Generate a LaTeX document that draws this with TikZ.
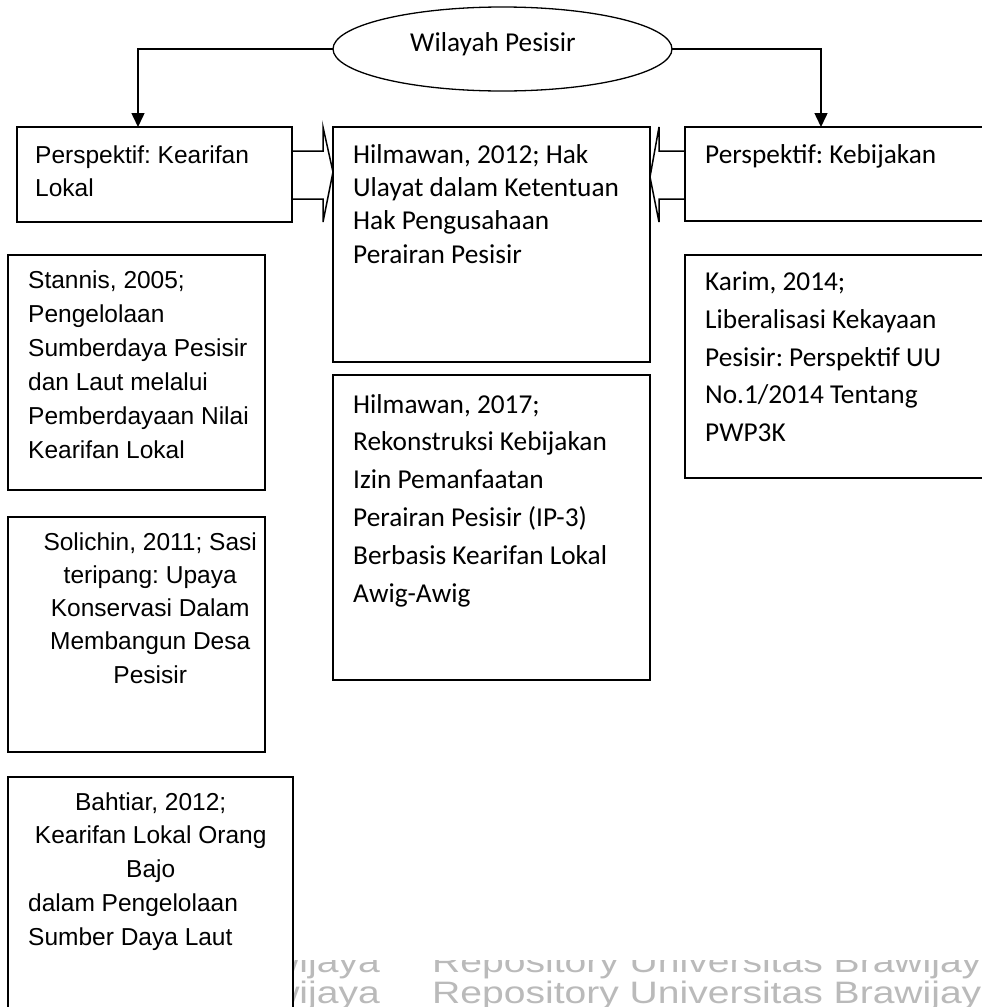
\documentclass[tikz,border=0pt]{standalone}
\usepackage{fontspec}
\setmainfont{Liberation Sans}
\newfontfamily\calibri{Carlito}
\usetikzlibrary{arrows.meta,shapes.geometric,calc}
\frenchspacing

\begin{document}
\begin{tikzpicture}[x=1pt,y=-1pt,
  box/.style={draw=black,line width=1.5pt,fill=white,rectangle,inner sep=0pt,outer sep=0pt,anchor=north west},
  link/.style={draw=black,line width=1.5pt,line join=miter},
  tip/.style={-{Triangle[width=13pt,length=14pt]}},
  arial/.style={font=\frenchspacing\fontsize{24.5}{34}\selectfont,inner sep=0pt,anchor=base west},
  cal/.style={font=\frenchspacing\calibri\fontsize{27.3}{33.4}\selectfont,inner sep=0pt,anchor=base west},
  wm/.style={text=black!27,font=\fontsize{31}{31}\selectfont,inner sep=0pt},
]
\useasboundingbox (0,0) rectangle (982,1007);
\fill[white] (0,0) rectangle (982,1007);

% repository stamp along the bottom edge
\begin{scope}
  \clip (0,960) rectangle (982,1007);
  \foreach \yy [count=\i] in {972,1003} {
    \node[wm,anchor=base east] (wmL\i) at (380,\yy) {\scalebox{1.26}[1]{awijaya}};
    \node[wm,anchor=base west] (wmR\i) at (432,\yy) {\scalebox{1.26}[1]{Repository Universitas Brawijaya}};
  }
\end{scope}

% central topic
\node[draw=black,line width=1.3pt,ellipse,minimum width=339pt,minimum height=84pt,inner sep=0pt,outer sep=0pt] (wil) at (502.5,49) {};
\node[cal] (wilt) at (410,51) {Wilayah Pesisir};

% perspective boxes
\node[box,minimum width=275pt,minimum height=95pt] (kl) at (17,127) {};
\node[box,minimum width=317pt,minimum height=235pt] (hk) at (333,127) {};
\node[box,minimum width=320pt,minimum height=94pt] (kb) at (685,127) {};

% literature boxes
\node[box,minimum width=257pt,minimum height=235pt] (st) at (8,255) {};
\node[box,minimum width=257pt,minimum height=235pt] (so) at (8,517) {};
\node[box,minimum width=285pt,minimum height=250pt] (ba) at (8,777) {};
\node[box,minimum width=317pt,minimum height=305pt] (hi) at (333,375) {};
\node[box,minimum width=320pt,minimum height=223pt] (ka) at (685,255) {};

% texts
\node[arial] (klt) at ($(kl.north west)+(18,36)$) {\parbox[t]{250pt}{\raggedright\baselineskip=33pt Perspektif: Kearifan\\Lokal}};
\node[cal] (hkt) at ($(hk.north west)+(20,36)$) {\parbox[t]{295pt}{\raggedright Hilmawan, 2012; Hak\\Ulayat dalam Ketentuan\\Hak Pengusahaan\\Perairan Pesisir}};
\node[cal] (kbt) at ($(kb.north west)+(20,36)$) {Perspektif: Kebijakan};

\node[arial] (stt) at ($(st.north west)+(20,33)$) {\parbox[t]{235pt}{\raggedright Stannis, 2005;\\Pengelolaan\\Sumberdaya Pesisir\\dan Laut melalui\\Pemberdayaan Nilai\\Kearifan Lokal}};
\node[arial] (sot) at ($(so.north west)+(0,33)$) {\parbox[t]{284pt}{\centering\baselineskip=33.3pt Solichin, 2011; Sasi\\teripang: Upaya\\Konservasi Dalam\\Membangun Desa\\Pesisir}};
\node[arial] (bat) at ($(ba.north west)+(0,33)$) {\parbox[t]{285pt}{\baselineskip=33.75pt\centering Bahtiar, 2012;\\Kearifan Lokal Orang\\Bajo\par\raggedright\leftskip=20pt dalam Pengelolaan\\Sumber Daya Laut}};

\node[cal] (hit) at ($(hi.north west)+(20,38)$) {\parbox[t]{295pt}{\raggedright\baselineskip=37.8pt Hilmawan, 2017;\\Rekonstruksi Kebijakan\\Izin Pemanfaatan\\Perairan Pesisir (IP-3)\\Berbasis Kearifan Lokal\\Awig-Awig}};
\node[cal] (kat) at ($(ka.north west)+(20,35.5)$) {\parbox[t]{295pt}{\raggedright\baselineskip=37.8pt Karim, 2014;\\Liberalisasi Kekayaan\\Pesisir: Perspektif UU\\No.1/2014 Tentang\\PWP3K}};

% connectors from the central topic
\draw[link,tip] (wil.west) -| ($(kl.north west)+(121,0)$);
\draw[link,tip] (wil.east) -| ($(kb.north west)+(136,0)$);

% block arrows pointing into the middle column
\draw[link] ($(kl.east)+(0,-23.5)$) -- ++(31,0) -- ++(0,-24) -- ($(hk.north west)+(0,45)$)
  -- ($(kl.south east)+(31,0)$) -- ++(0,-23) -- ($(kl.east)+(0,24.5)$);
\draw[link] ($(kb.north west)+(0,24)$) -- ++(-26,0) -- ++(0,-24) -- ($(hk.north east)+(0,50)$)
  -- ($(kb.south west)+(-26,1)$) -- ++(0,-23) -- ++(26,0);
\end{tikzpicture}
\end{document}
